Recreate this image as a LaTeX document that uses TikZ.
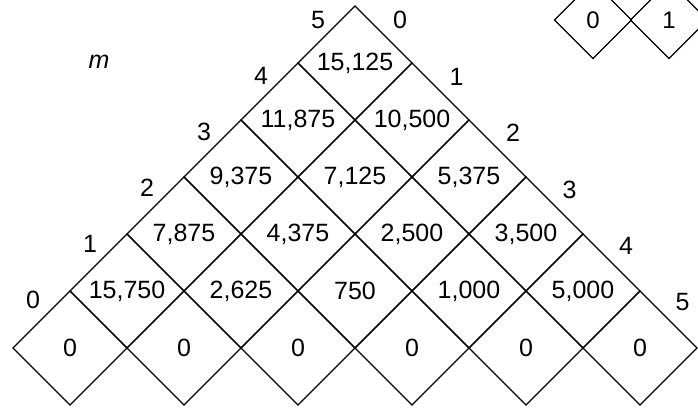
\documentclass[tikz,border=0pt]{standalone}
\usepackage{fontspec}
\setmainfont{Liberation Sans}
\usetikzlibrary{shapes.geometric}
\begin{document}
\begin{tikzpicture}[x=1pt,y=-1pt,
  cell/.style={diamond,draw,line width=1.1pt,aspect=1,minimum width=114pt,minimum height=114pt,inner sep=0pt,outer sep=0pt,font=\fontsize{25}{30}\selectfont},
  keycell/.style={cell,minimum width=77pt,minimum height=77pt,font=\fontsize{24}{28}\selectfont},
  lab/.style={inner sep=0pt,font=\fontsize{25}{30}\selectfont}]
\useasboundingbox (0,0) rectangle (698,409);
\clip (0,0) rectangle (698,409);
% rows of cells, k = 0 bottom
\foreach \vals [count=\kk from 0] in {{0,0,0,0,0,0},{15{,}750,2{,}625,750,1{,}000,5{,}000},{7{,}875,4{,}375,2{,}500,3{,}500},{9{,}375,7{,}125,5{,}375},{11{,}875,10{,}500},{15{,}125}}{
  \foreach \v [count=\ii from 0] in \vals {
    \node[cell] (c-\kk-\ii) at ({70+57*\kk+114*\ii},{348-57*\kk}) {\v};
  }
}
% side labels
\foreach \k in {0,...,5}{
  \node[lab] (l-\k) at ({33+57*\k},{300-56*\k}) {\k};
  \node[lab] (r-\k) at ({400+56.5*\k},{20+56.5*\k}) {\k};
}
\node[lab] (m) at (99,62) {\itshape m};
% key
\node[keycell] (k0) at (593,20) {0};
\node[keycell] (k1) at (669,20) {1};
\end{tikzpicture}
\end{document}
